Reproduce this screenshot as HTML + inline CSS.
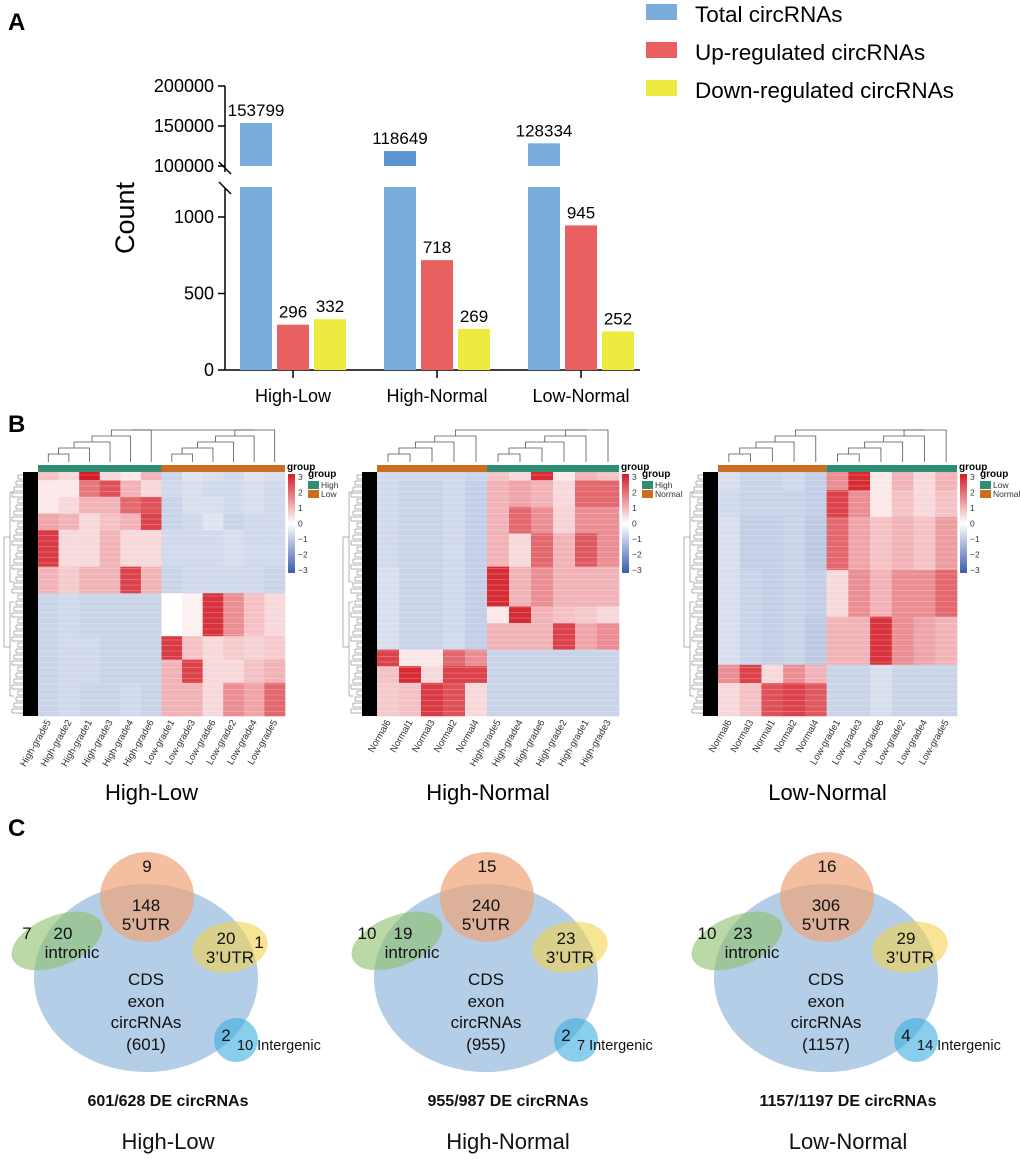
<!DOCTYPE html>
<html><head><meta charset="utf-8">
<style>
body{margin:0;background:#fff;}
svg{display:block;font-family:"Liberation Sans",Arial,sans-serif;}
</style></head>
<body>
<svg id="fig" width="1020" height="1160" viewBox="0 0 1020 1160" xmlns="http://www.w3.org/2000/svg">
<text x="8" y="30" font-size="24" font-weight="bold">A</text>
<text x="8" y="432" font-size="24" font-weight="bold">B</text>
<text x="8" y="836" font-size="24" font-weight="bold">C</text>
<g id="bars"></g>
<g id="heat"></g>
<g id="venn"></g>
</svg>
<script>
const groups = ["High-Low","High-Normal","Low-Normal"];
const totalVals = [153799,118649,128334];
const upVals = [296,718,945];
const downVals = [332,269,252];
const seriesNames = ["Total circRNAs","Up-regulated circRNAs","Down-regulated circRNAs"];
const lowTicks = [0,500,1000];
const highTicks = [100000,150000,200000];

const hm1Cols = ["High-grade5","High-grade2","High-grade1","High-grade3","High-grade4","High-grade6","Low-grade1","Low-grade3","Low-grade6","Low-grade2","Low-grade4","Low-grade5"];
const hm1Blocks = [
 [0,0.034,[0.8,0.5,3,0.5,0.3,1,-0.8,-0.5,-0.6,-0.7,-0.5,-0.6]],
 [0.034,0.102,[0.3,0.3,1.8,2.3,1,0.5,-0.7,-0.6,-0.7,-0.7,-0.6,-0.7]],
 [0.102,0.17,[0.3,0.5,1,1,2,2.3,-0.8,-0.6,-0.6,-0.7,-0.6,-0.7]],
 [0.17,0.238,[1.2,1,0.5,0.8,1,2.5,-0.8,-0.7,-0.5,-0.8,-0.7,-0.7]],
 [0.238,0.388,[2.6,0.5,0.5,1,0.5,0.5,-0.7,-0.7,-0.7,-0.6,-0.7,-0.7]],
 [0.388,0.497,[1,0.7,1,1,2.5,1,-0.8,-0.7,-0.7,-0.7,-0.7,-0.8]],
 [0.497,0.673,[-0.8,-0.7,-0.8,-0.8,-0.8,-0.8,0,0.2,2.7,1.5,0.8,0.5]],
 [0.673,0.769,[-0.8,-0.7,-0.7,-0.8,-0.8,-0.8,2.6,0.8,0.5,0.7,0.6,0.7]],
 [0.769,0.864,[-0.8,-0.7,-0.7,-0.8,-0.8,-0.8,1,2.5,0.5,0.5,0.8,1]],
 [0.864,1,[-0.8,-0.7,-0.8,-0.8,-0.7,-0.8,1,1,0.5,1.5,1.2,2]]
];
const hm2Cols = ["Normal6","Normal1","Normal3","Normal2","Normal4","High-grade5","High-grade4","High-grade6","High-grade2","High-grade1","High-grade3"];
const hm2Blocks = [
 [0,0.034,[-0.7,-0.7,-0.7,-0.7,-0.8,0.8,0.5,2.8,0.3,1,0.8]],
 [0.034,0.143,[-0.7,-0.8,-0.8,-0.7,-0.9,1,1.2,1,0.5,2,2]],
 [0.143,0.252,[-0.7,-0.8,-0.8,-0.7,-0.9,1,2,1.5,0.6,1.5,1.5]],
 [0.252,0.388,[-0.7,-0.8,-0.8,-0.7,-0.9,1,0.5,2,1,2.2,1.5]],
 [0.388,0.551,[-0.6,-0.8,-0.8,-0.7,-0.9,2.8,1,1.5,1,1,1]],
 [0.551,0.619,[-0.6,-0.8,-0.8,-0.7,-0.9,0.3,2.8,1,0.8,0.7,0.5]],
 [0.619,0.728,[-0.6,-0.8,-0.8,-0.7,-0.9,1,1,1,2.5,1.2,1.5]],
 [0.728,0.796,[2.5,0.3,0.3,2,1.5,-0.8,-0.8,-0.8,-0.8,-0.8,-0.8]],
 [0.796,0.864,[0.8,2.8,0.5,2.5,2.5,-0.8,-0.8,-0.8,-0.8,-0.8,-0.8]],
 [0.864,1,[0.7,0.8,2.6,2.3,0.5,-0.8,-0.8,-0.8,-0.8,-0.8,-0.8]]
];
const hm3Cols = ["Normal6","Normal3","Normal1","Normal2","Normal4","Low-grade1","Low-grade3","Low-grade6","Low-grade2","Low-grade4","Low-grade5"];
const hm3Blocks = [
 [0,0.075,[-0.6,-0.8,-0.8,-0.7,-0.9,1.5,2.8,0.3,1,0.5,1]],
 [0.075,0.184,[-0.7,-0.8,-0.8,-0.8,-0.9,2.5,1.5,0.3,0.8,0.5,0.8]],
 [0.184,0.402,[-0.6,-0.9,-0.9,-0.8,-1,2,1.2,0.8,1,0.8,1.3]],
 [0.402,0.593,[-0.6,-0.8,-0.9,-0.8,-0.9,0.5,1.5,1,1.5,1.5,2]],
 [0.593,0.79,[-0.6,-0.8,-0.9,-0.8,-1,1,1,2.7,1.5,1.2,1]],
 [0.79,0.865,[1.5,2.5,0.5,1.5,1,-0.8,-0.8,-0.6,-0.8,-0.8,-0.8]],
 [0.865,1,[0.5,0.8,2.3,2.5,2.2,-0.8,-0.8,-0.6,-0.8,-0.8,-0.8]]
];

const vennTotals = ["601","955","1157"];
const vennTop = ["9","15","16"];
const vennUTR5 = ["148","240","306"];
const vennIntronOut = ["7","10","10"];
const vennIntronIn = ["20","19","23"];
const vennUTR3 = ["20","23","29"];
const vennUTR3Out = ["1","",""];
const vennInterIn = ["2","2","4"];
const vennInterOut = ["10","7","14"];
const vennCaption = ["601/628 DE circRNAs","955/987 DE circRNAs","1157/1197 DE circRNAs"];

const NS="http://www.w3.org/2000/svg";
function mk(parent,tag,attrs,text){const e=document.createElementNS(NS,tag);for(const k in attrs)e.setAttribute(k,attrs[k]);if(text!==undefined)e.textContent=text;parent.appendChild(e);return e;}

// ---------- bar chart ----------
const B=document.getElementById('bars');
const axX=225, y0=370, lowTop=187, highBase=166, highTopY=86;
function yLow(v){return y0 - v*(y0-217)/1000;}
function yHigh(v){return highBase - (v-100000)*(highBase-highTopY)/100000;}
const gx=i=>293+i*144;
const colors=["#7aacdc","#e96060","#eeea3f"];
let e;
e=mk(B,'line',{x1:axX,y1:highTopY,x2:axX,y2:172,stroke:'#000','stroke-width':1.5});

e=mk(B,'line',{x1:axX,y1:188,x2:axX,y2:y0,stroke:'#000','stroke-width':1.5});

mk(B,'line',{x1:axX-6,y1:162,x2:axX+6,y2:174,stroke:'#000','stroke-width':1.5});
mk(B,'line',{x1:axX-6,y1:182,x2:axX+6,y2:194,stroke:'#000','stroke-width':1.5});
e=mk(B,'line',{x1:axX,y1:y0,x2:640,y2:y0,stroke:'#000','stroke-width':1.5});

lowTicks.forEach(t=>{const y=yLow(t);mk(B,'line',{x1:axX-7,y1:y,x2:axX,y2:y,stroke:'#000','stroke-width':1.5});
 e=mk(B,'text',{x:axX-11,y:y+6,'font-size':18,'text-anchor':'end'},String(t));
 });
highTicks.forEach(t=>{const y=yHigh(t);mk(B,'line',{x1:axX-7,y1:y,x2:axX,y2:y,stroke:'#000','stroke-width':1.5});
 e=mk(B,'text',{x:axX-11,y:y+6,'font-size':18,'text-anchor':'end'},String(t));
 });
e=mk(B,'text',{x:0,y:0,'font-size':27,'text-anchor':'middle',transform:'translate(134,218) rotate(-90)'},'Count');

groups.forEach((g,i)=>{
 const c=gx(i);
 mk(B,'line',{x1:c,y1:y0,x2:c,y2:y0+8,stroke:'#000','stroke-width':1.5});
 e=mk(B,'text',{x:c,y:402,'font-size':18,'text-anchor':'middle'},g);
 
 const bx=c-37-16;
 e=mk(B,'rect',{x:bx,y:yHigh(totalVals[i]),width:32,height:highBase-yHigh(totalVals[i]),fill:i==1?'#5b95cf':colors[0]});
 
 e=mk(B,'rect',{x:bx,y:lowTop,width:32,height:y0-lowTop,fill:colors[0]});
 
 e=mk(B,'text',{x:bx+16,y:yHigh(totalVals[i])-7,'font-size':17,'text-anchor':'middle'},String(totalVals[i]));
 
 [[upVals,1,0],[downVals,2,37]].forEach(([arr,ci,off])=>{
  const x=c+off-16;
  const yy=yLow(arr[i]);
  e=mk(B,'rect',{x:x,y:yy,width:32,height:y0-yy,fill:colors[ci]});
  
  e=mk(B,'text',{x:x+16,y:yy-7,'font-size':17,'text-anchor':'middle'},String(arr[i]));
  
 });
});
seriesNames.forEach((s,i)=>{
 const y=[4,42,80][i];
 e=mk(B,'rect',{x:646,y:y,width:31,height:16,fill:colors[i]});
 
 e=mk(B,'text',{x:695,y:y+18,'font-size':22.5},s);
 
});

// ---------- heatmaps ----------
const H=document.getElementById('heat');
function col(v){v=Math.max(-3,Math.min(3,v));const t=Math.abs(v)/3;
 const end=v>=0?[212,28,38]:[58,92,172];
 const r=Math.round(255+(end[0]-255)*t),g=Math.round(255+(end[1]-255)*t),b=Math.round(255+(end[2]-255)*t);
 return `rgb(${r},${g},${b})`;}
const GREEN='#2e8e73',ORANGE='#cc6d1f';
function heatmap(x0,x1,cols,blocks,nFirst,firstColor,secondColor,leg1,leg2,title){
 const yT=472,yB=716,w=(x1-x0)/cols.length;
 const g=mk(H,'g',{});
 
 blocks.forEach(([a,b,vals])=>{
  vals.forEach((v,j)=>{
   e=mk(g,'rect',{x:x0+j*w,y:yT+a*(yB-yT),width:w+0.3,height:(b-a)*(yB-yT)+0.3,fill:col(v)});
   
  });
 });
 for(let y=yT+3;y<yB;y+=5.5){mk(g,'line',{x1:x0,y1:y,x2:x1,y2:y,stroke:'#fff','stroke-opacity':0.22,'stroke-width':1});}
 e=mk(g,'rect',{x:x0,y:465,width:nFirst*w,height:7,fill:firstColor});
 
 e=mk(g,'rect',{x:x0+nFirst*w,y:465,width:(cols.length-nFirst)*w,height:7,fill:secondColor});
 
 const cx=j=>x0+(j+0.5)*w;
 const dg=mk(g,'g',{stroke:'#555','stroke-width':0.8,fill:'none'});
 
 function clus(a,b,base){
  let prevX=cx(a),prevY=462;
  for(let j=a+1;j<=b;j++){const h=base-(j-a)*6;const xj=cx(j);
   mk(dg,'path',{d:`M${prevX},${prevY} V${h} H${xj} V462`});prevX=(prevX+xj)/2;prevY=h;}
  return [prevX,prevY];}
 const L=clus(0,nFirst-1,460),R=clus(nFirst,cols.length-1,460);
 mk(dg,'path',{d:`M${L[0]},${L[1]} V430 H${R[0]} V${R[1]}`});
 e=mk(g,'rect',{x:x0-15,y:yT,width:15,height:yB-yT,fill:'#000'});
 
 const rg=mk(g,'g',{stroke:'#666','stroke-width':0.5,fill:'none'});
 
 for(let k=0;k<40;k++){const y=yT+3+k*6;mk(rg,'path',{d:`M${x0-15},${y} H${x0-20-(k%4)*2} V${y+4} H${x0-15}`});}
 mk(rg,'path',{d:`M${x0-24},${yT+20} H${x0-28} V${yT+110} H${x0-24}`});
 mk(rg,'path',{d:`M${x0-24},${yT+130} H${x0-28} V${yB-20} H${x0-24}`});
 mk(rg,'path',{d:`M${x0-28},${yT+65} H${x0-34} V${yT+175} H${x0-28}`});
 cols.forEach((c,j)=>{
  e=mk(g,'text',{x:0,y:0,'font-size':9.5,fill:'#333','text-anchor':'end',transform:`translate(${cx(j)+3},${yB+6}) rotate(-60)`},c);
  
 });
 const lx=x1+3;
 e=mk(g,'text',{x:lx-1,y:470,'font-size':10,'font-weight':'bold'},'group');
 
 const grad=mk(g,'defs',{});
 const lg=mk(grad,'linearGradient',{id:'cg'+title,x1:0,y1:0,x2:0,y2:1});
 mk(lg,'stop',{offset:'0','stop-color':col(3)});mk(lg,'stop',{offset:'0.5','stop-color':'#fff'});mk(lg,'stop',{offset:'1','stop-color':col(-3)});
 e=mk(g,'rect',{x:lx,y:474,width:7,height:99,fill:`url(#cg${title})`});
 
 [3,2,1,0,-1,-2,-3].forEach((t,k)=>{e=mk(g,'text',{x:lx+10,y:477+k*15.5+3,'font-size':8.5,fill:'#333'},t<0?'\u2212'+(-t):String(t));
  });
 e=mk(g,'text',{x:lx+20,y:477,'font-size':10,'font-weight':'bold'},'group');
 
 mk(g,'rect',{x:lx+20,y:481,width:11,height:8,fill:GREEN});
 mk(g,'rect',{x:lx+20,y:490,width:11,height:8,fill:ORANGE});
 e=mk(g,'text',{x:lx+33,y:488,'font-size':8.5,fill:'#333'},leg1);
 e=mk(g,'text',{x:lx+33,y:497,'font-size':8.5,fill:'#333'},leg2);
 e=mk(g,'text',{x:(x0+x1)/2-10,y:800,'font-size':22,'text-anchor':'middle'},title);
 
}
heatmap(38,285,hm1Cols,hm1Blocks,6,GREEN,ORANGE,'High','Low','High-Low');
heatmap(377,619,hm2Cols,hm2Blocks,5,ORANGE,GREEN,'High','Normal','High-Normal');
heatmap(718,957,hm3Cols,hm3Blocks,5,ORANGE,GREEN,'Low','Normal','Low-Normal');

// ---------- venn ----------
const V=document.getElementById('venn');
groups.forEach((g,i)=>{
 const o=i*340;
 const vg=mk(V,'g',{transform:`translate(${o},0)`});
 
 e=mk(vg,'ellipse',{cx:146,cy:978,rx:112,ry:94,fill:'#a7c6e3','fill-opacity':0.85});
 
 e=mk(vg,'ellipse',{cx:147,cy:897,rx:47,ry:45,fill:'#eea478','fill-opacity':0.7});
 
 e=mk(vg,'ellipse',{cx:57,cy:941,rx:48,ry:25,fill:'#8dbf6a','fill-opacity':0.6,transform:'rotate(-22 57 941)'});
 
 e=mk(vg,'ellipse',{cx:230,cy:947,rx:38,ry:25,fill:'#f1d34e','fill-opacity':0.6,transform:'rotate(-10 230 947)'});
 
 e=mk(vg,'circle',{cx:236,cy:1040,r:22,fill:'#3aaee0','fill-opacity':0.6});
 
 const T=(x,y,s,name,extra)=>{e=mk(vg,'text',Object.assign({x:x,y:y,'font-size':17,'text-anchor':'middle',fill:'#111'},extra||{}),s);
  };
 T(147,872,vennTop[i],'utr5-only-count');
 T(146,911,vennUTR5[i],'utr5-count');T(146,930,"5\u2019UTR",'utr5-label');
 T(27,939,vennIntronOut[i],'intronic-only-count');T(63,939,vennIntronIn[i],'intronic-count');T(72,958,'intronic','intronic-label');
 T(226,944,vennUTR3[i],'utr3-count');T(259,948,vennUTR3Out[i],'utr3-only-count');T(230,963,"3\u2019UTR",'utr3-label');
 T(146,985,'CDS','cds-label');T(146,1007,'exon','cds-label');T(146,1028,'circRNAs','cds-label');T(146,1050,'('+vennTotals[i]+')','cds-total');
 T(226,1041,vennInterIn[i],'intergenic-count');
 T(237,1050,vennInterOut[i]+' Intergenic','intergenic-label',{'text-anchor':'start','font-size':14.5});
 T(168,1106,vennCaption[i],'venn-caption',{'font-weight':'bold','font-size':16});
 T(168,1149,g,'venn-title',{'font-size':22});
});
</script>
</body></html>
